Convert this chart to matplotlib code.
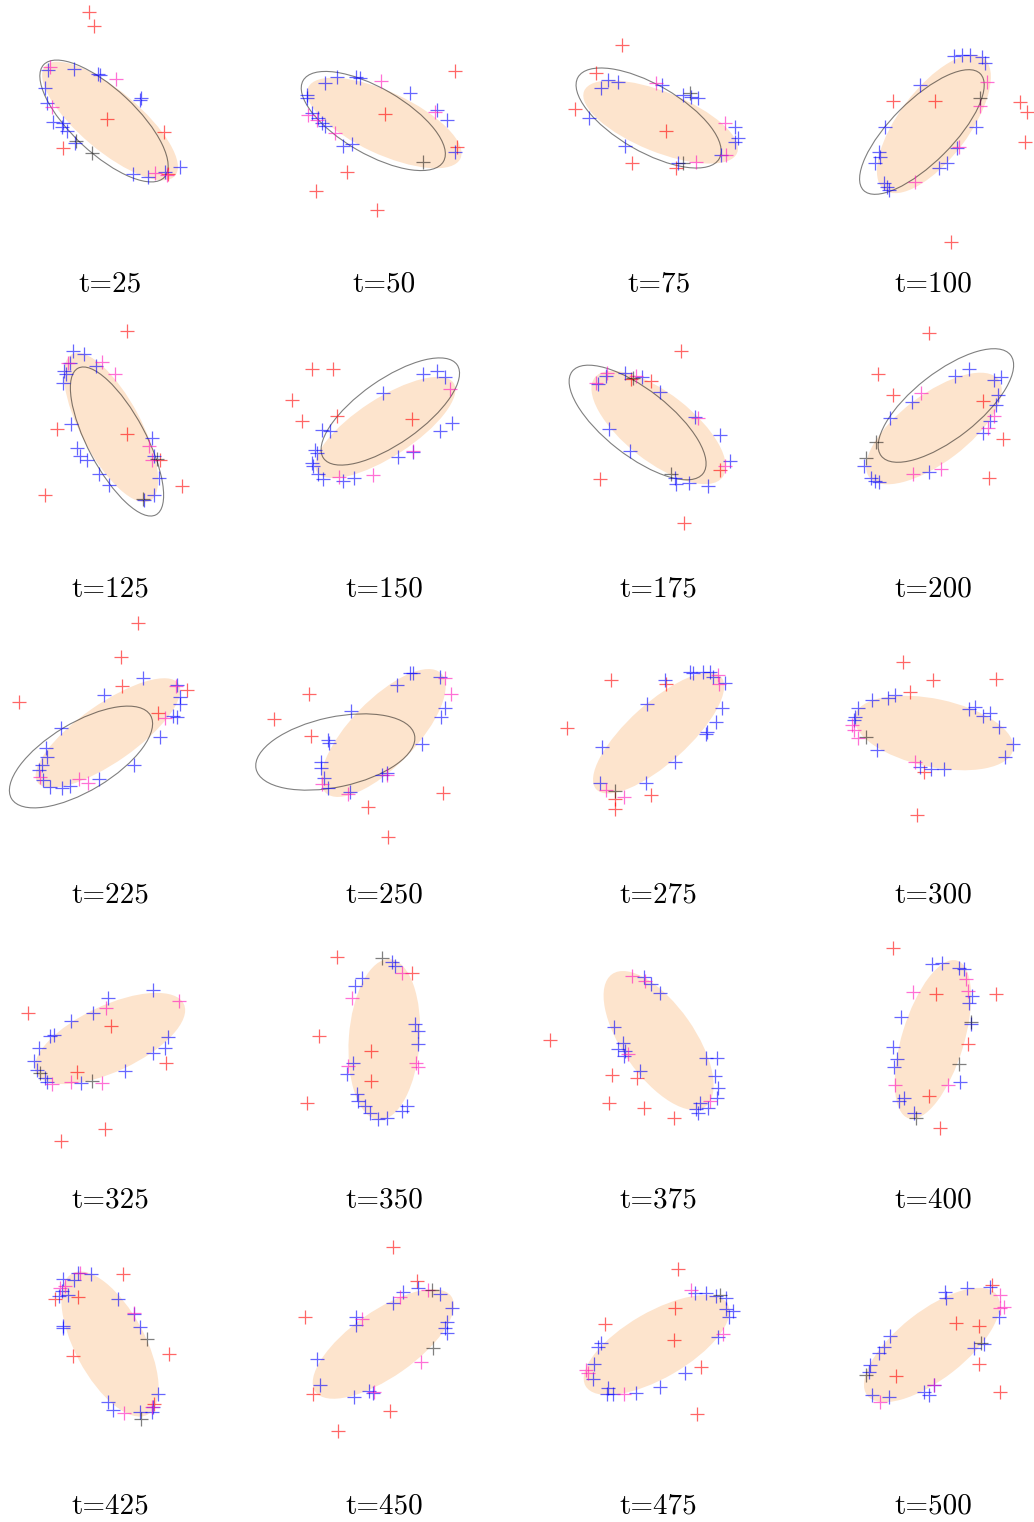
import matplotlib
matplotlib.use("Agg")
import matplotlib.pyplot as plt
from matplotlib.patches import Ellipse

times = [25, 50, 75, 100, 125, 150, 175, 200, 225, 250,
         275, 300, 325, 350, 375, 400, 425, 450, 475, 500]

# filled ellipse per panel: centre x, centre y, width, height, angle
fill_ell = [
    (0, -1, 170, 60, -40), (0, -3, 168, 62, -25), (2, -2, 165, 60, -22), (1, -4, 165, 70, 53),
    (1, -2, 166, 60, -62), (1, -2, 163, 58, 33), (0, -2, 162, 68, -38), (1, -3, 162, 68, 37),
    (-2, -2, 172, 58, 35), (-1, -2, 166, 66, 46), (0, -2, 168, 60, 42), (1, -2, 162, 68, -12),
    (0, -2, 163, 66, 25), (0, -3, 161, 71, 86), (0, -4, 162, 72, -55), (0, -3, 165, 62, 73),
    (0, -2, 160, 70, -62), (-1, -2, 166, 66, 35), (-2, -3, 164, 66, 30), (-1, -3, 164, 68, 38),
]

# outlined ellipse (only early panels)
line_ell = [
    (-6, -1, 165, 64, -43), (-11, -1, 162, 66, -30), (-10, 2, 163, 67, -30), (-11, -12, 165, 62, 45),
    (7, -16, 166, 58, -62), (6, 14, 163, 64, 35), (-21, 3, 166, 66, -38), (13, 20, 164, 66, 38),
    (-29, -26, 162, 68, 31), (-49, -21, 162, 70, 12),
    None, None, None, None, None, None, None, None, None, None,
]

red = [
    [(-21, 108), (-16, 94), (-3, 1), (54, -12), (-47, -28), (58, -54)],
    [(71, 49), (1, 6), (73, -27), (-37, -52), (-68, -71), (-7, -90)],
    [(-37, 75), (-63, 47), (-84, 11), (7, -11), (-27, -43), (17, -48)],
    [(-40, 19), (2, 19), (87, 18), (94, 8), (92, -22), (18, -122)],
    [(17, 95), (-53, -3), (17, -8), (50, -34), (72, -60), (-65, -69)],
    [(-72, 57), (-51, 57), (-92, 26), (-82, 5), (-47, 10), (28, 7)],
    [(22, 75), (-8, 45), (-28, 47), (-59, -53), (61, -44), (25, -97)],
    [(-4, 93), (-55, 52), (-40, 31), (50, 25), (70, -13), (56, -52)],
    [(28, 108), (11, 74), (-91, 29), (12, 45), (77, 41), (48, 18)],
    [(-75, 37), (-110, 12), (-73, -5), (59, -62), (-16, -76), (4, -106)],
    [(-48, 51), (-92, 3), (7, 47), (-8, -64), (-44, -78), (-44, -68)],
    [(-30, 69), (0, 51), (63, 52), (-23, 39), (-16, -84), (-9, -41)],
    [(-82, 24), (1, 11), (-33, -35), (56, -26), (-5, -92), (-49, -104)],
    [(-47, 80), (28, 64), (-65, 1), (-13, -14), (-13, -44), (-77, -66)],
    [(-109, -3), (-47, -38), (-22, -41), (-50, -66), (-15, -71), (15, -81)],
    [(-40, 89), (63, 43), (3, 43), (35, -7), (-4, -59), (7, -91)],
    [(13, 68), (-32, 45), (-55, 43), (-37, -14), (59, -12), (44, -62)],
    [(9, 95), (33, 61), (-79, 25), (-71, -52), (6, -69), (-46, -89)],
    [(19, 73), (16, 34), (-54, 18), (15, 2), (42, -25), (38, -72)],
    [(23, 19), (46, 16), (46, -22), (-37, -34), (67, -50), (59, 57)],
]

magenta = [
    [(-60, 53), (6, 41), (-58, 13), (45, -53), (57, -55)],
    [(-3, 39), (51, 8), (-76, 5), (-49, -13), (-67, 0)],
    [(-3, 37), (66, -3), (37, -42), (67, -35)],
    [(54, 38), (47, 14), (26, -27), (-18, -62)],
    [(-42, 63), (-8, 64), (5, 52), (39, -20), (42, -34)],
    [(66, 37), (29, -25), (-45, -51), (-11, -49)],
    [(-52, 53), (-63, 43), (-23, 50), (39, 8), (66, -40)],
    [(-12, 33), (61, 10), (55, -2), (-20, -48), (8, -43)],
    [(66, 45), (55, 13), (-70, -46), (-31, -48), (-22, -52)],
    [(61, 53), (67, 37), (-62, -53), (-36, -63), (3, -44)],
    [(59, 56), (-53, -59), (-35, -66), (60, 47)],
    [(-81, 6), (-79, 1), (-75, -7), (-18, -31)],
    [(-4, 29), (69, 36), (-58, -47), (-39, -45), (-8, -46)],
    [(18, 64), (-32, 39), (32, -26), (34, -30), (-36, -29)],
    [(-27, 61), (-14, 56), (-31, -17), (51, -64)],
    [(33, 58), (35, 46), (-20, 45), (-38, -48), (15, -48)],
    [(-30, 69), (-50, 54), (-45, 56), (24, 29), (14, -71), (42, -65)],
    [(44, 52), (16, 45), (-22, 23), (37, -20), (-10, -50)],
    [(32, 52), (64, 8), (-73, -28), (-71, -31), (-35, -52)],
    [(67, 47), (71, 35), (67, 34), (1, -43), (-53, -60)],
]

blue = [
    [(-62, 50), (-36, 51), (-10, 45), (-12, 46), (-65, 32), (-63, 17), (31, 22), (30, 20), (-57, -2),
     (-47, -3), (-48, -7), (-43, -11), (-35, -23), (23, -54), (38, -57), (55, -52), (70, -47)],
    [(-47, 43), (-28, 43), (-24, 42), (-59, 37), (26, 27), (-77, 25), (-77, 22), (53, 10), (63, 0),
     (-72, 7), (-66, 2), (-62, -3), (-59, -6), (-41, -26), (-32, -24), (71, -32)],
    [(-51, 40), (-41, 38), (-58, 32), (3, 35), (24, 25), (32, 23), (39, 22), (-70, 2), (76, -7),
     (79, -18), (76, -22), (-34, -26), (19, -43), (62, -35)],
    [(21, 64), (29, 65), (37, 65), (49, 63), (52, 57), (-13, 35), (43, -7), (-48, -7), (24, -28),
     (-54, -32), (-53, -37), (-58, -43), (14, -43), (6, -48), (-49, -63), (-46, -67), (-44, -70)],
    [(-37, 75), (-26, 72), (-40, 63), (-46, 55), (-44, 52), (-47, 43), (-14, 60), (-39, 2), (42, -12),
     (-33, -22), (-30, -30), (-23, -34), (44, -30), (-11, -48), (-1, -59), (49, -52), (44, -69), (34, -74)],
    [(39, 52), (53, 55), (61, 49), (-1, 33), (68, 3), (56, -5), (-62, -4), (-54, -5), (-69, -24),
     (-67, -27), (-72, -37), (-71, -40), (-66, -48), (-61, -53), (-41, -55), (-30, -52), (14, -31), (29, -26)],
    [(-61, 42), (-53, 50), (-34, 53), (-17, 49), (1, 34), (36, 9), (-50, -3), (61, -9), (-29, -25),
     (71, -35), (16, -52), (17, -58), (30, -57), (49, -60)],
    [(22, 50), (36, 57), (61, 46), (68, 49), (65, 31), (63, 21), (-21, 24), (-43, 8), (57, 5),
     (50, -7), (-69, -40), (-62, -52), (-58, -55), (-54, -56), (-4, -46)],
    [(33, 53), (-6, 36), (67, 46), (70, 34), (70, 27), (63, 15), (67, 14), (-49, 3), (50, -6),
     (-64, -17), (-63, -26), (-68, -34), (-71, -39), (24, -34), (-67, -49), (-60, -56), (-48, -57),
     (-40, -55), (-11, -48)],
    [(26, 58), (29, 58), (56, 54), (13, 46), (61, 23), (57, 14), (-33, 20), (-56, -9), (-55, -12),
     (38, -13), (-63, -31), (-63, -37), (-60, -47), (-56, -57), (-34, -61), (3, -42), (-2, -44)],
    [(6, 51), (31, 59), (34, 58), (44, 59), (51, 59), (54, 54), (66, 48), (-12, 27), (63, 23),
     (57, 9), (48, -1), (47, -3), (-57, -16), (16, -31), (-59, -52), (-13, -52)],
    [(-61, 31), (-45, 33), (-38, 36), (-75, 23), (-78, 14), (-79, 11), (-56, -19), (36, 22), (42, 24),
     (50, 15), (57, 18), (66, 4), (80, -13), (72, -26), (-13, -36), (-2, -38), (11, -38)],
    [(43, 47), (-2, 39), (-17, 24), (-39, 16), (-60, 1), (-56, 2), (-71, -11), (58, 0), (55, -11),
     (43, -16), (-76, -24), (-73, -33), (-65, -41), (-63, -45), (-29, -46), (15, -34)],
    [(8, 75), (11, 71), (-22, 59), (-29, 51), (31, 13), (34, 6), (34, -7), (-31, -26), (-37, -37),
     (-27, -57), (-26, -64), (-19, -69), (-14, -76), (-6, -82), (3, -81), (18, -74), (23, -69)],
    [(-15, 60), (-8, 53), (1, 44), (-45, 10), (-36, -6), (-41, -12), (-34, -14), (-35, -19), (-19, -34),
     (47, -21), (58, -21), (56, -39), (59, -51), (58, -61), (41, -66), (37, -72), (39, -76), (49, -71)],
    [(-1, 73), (9, 74), (26, 69), (31, 68), (39, 41), (36, 34), (38, 13), (-32, 20), (-40, -10),
     (-36, -22), (-39, -30), (27, -45), (-29, -61), (-34, -64), (-19, -76)],
    [(-47, 63), (-36, 62), (-32, 69), (-19, 68), (-48, 51), (-42, 47), (-51, 46), (8, 43), (24, 28),
     (30, 15), (-47, 16), (-47, 14), (48, -52), (-2, -60), (3, -68), (30, -70), (42, -70), (43, -65)],
    [(19, 50), (9, 39), (34, 54), (56, 48), (68, 34), (63, 20), (61, 14), (63, 9), (-28, 25),
     (-28, 17), (-67, -17), (-64, -43), (-30, -55), (-15, -49), (-11, -51)],
    [(36, 49), (47, 49), (57, 46), (67, 44), (67, 33), (74, 31), (70, 25), (59, 5), (-58, -1),
     (-61, -5), (-65, -22), (-66, -37), (26, -31), (-51, -46), (-52, -52), (-46, -52), (-23, -51), (1, -45)],
    [(12, 50), (13, 44), (34, 54), (57, 55), (66, 25), (51, -2), (41, -6), (-43, 6), (-49, -5),
     (-54, -11), (-63, -23), (-64, -30), (-61, -53), (-44, -55), (-9, -50), (-4, -53), (1, -43)],
]

black = [
    [(-34, -21), (-18, -33)], [(39, -42)], [(24, -43), (31, 27)], [(47, 22)], [(47, -33), (33, -73)],
    [], [(-26, 48), (12, -48)], [(-67, -32), (-57, -16)], [], [],
    [(-44, -60)], [(-67, -6)], [(-70, -36), (-18, -44)], [(-2, 79)], [],
    [(38, 15), (26, -27), (-17, -81)], [(31, -77), (37, 3)], [(48, 52), (49, -6)], [(61, 47)], [(-67, -33), (48, -1)],
]

W, H = 1034, 1522
fig = plt.figure(figsize=(W / 100, H / 100), dpi=100)

half = 130
for i, t in enumerate(times):
    r, c = divmod(i, 4)
    cx = 110 + 274.3 * c
    cy = 120 + 305.5 * r
    ax = fig.add_axes([(cx - half) / W, 1 - (cy + half) / H, 2 * half / W, 2 * half / H])
    ax.set_xlim(-half, half)
    ax.set_ylim(-half, half)
    ax.axis('off')

    ex, ey, ew, eh, ea = fill_ell[i]
    ax.add_patch(Ellipse((ex, ey), ew, eh, angle=ea, facecolor='#fde4cd', edgecolor='none', zorder=1))
    if line_ell[i] is not None:
        ex, ey, ew, eh, ea = line_ell[i]
        ax.add_patch(Ellipse((ex, ey), ew, eh, angle=ea, facecolor='none',
                             edgecolor='black', alpha=0.5, lw=0.8, zorder=2))

    for pts, col, al in [(red[i], '#ff0000', 0.6), (blue[i], '#0000ff', 0.6),
                         (magenta[i], '#ff11bb', 0.6), (black[i], '#000000', 0.5)]:
        if not pts:
            continue
        xs = [p[0] for p in pts]
        ys = [p[1] for p in pts]
        ax.scatter(xs, ys, marker='+', s=90, linewidths=0.9, color=col, alpha=al, zorder=3, clip_on=False)

    fig.text(cx / W, 1 - (cy + 164) / H, 't=%d' % t, ha='center', va='center',
             fontsize=21, family='cmr10')

fig.savefig('out.png', dpi=100)
